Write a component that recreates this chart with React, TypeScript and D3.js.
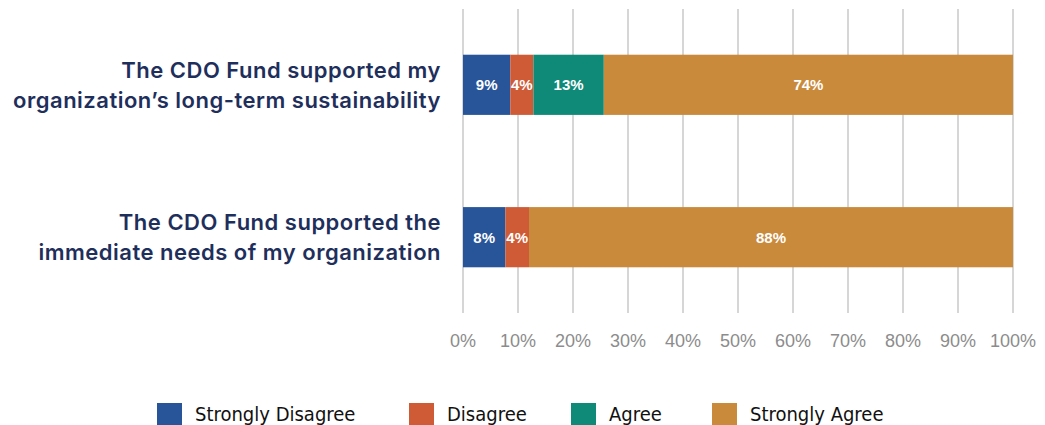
import React from "react";
import * as d3 from "d3";

const categories = ["sustainability", "immediate"];
const categoryLines = [
  ["The CDO Fund supported my", "organization’s long-term sustainability"],
  ["The CDO Fund supported the", "immediate needs of my organization"],
];
const seriesNames = ["Strongly Disagree", "Disagree", "Agree", "Strongly Agree"];
const stronglyDisagree = [8.6, 7.7];
const disagree = [4.2, 4.3];
const agree = [12.8, 0];
const stronglyAgree = [74.4, 88.0];
const tickValues = [0, 10, 20, 30, 40, 50, 60, 70, 80, 90, 100];
const colors = ["#28559a", "#cf5b36", "#0f8a78", "#c98a3c"];

const W = 1045;
const H = 425;

export default function App() {
  const x = d3.scaleLinear().domain([0, 100]).range([463, 1013]);
  const y = d3
    .scaleBand<string>()
    .domain(categories)
    .range([9, 313])
    .paddingInner(0.605)
    .paddingOuter(0.3);

  const rows = categories.map((c, i) => {
    const o: any = { cat: c };
    o[seriesNames[0]] = stronglyDisagree[i];
    o[seriesNames[1]] = disagree[i];
    o[seriesNames[2]] = agree[i];
    o[seriesNames[3]] = stronglyAgree[i];
    return o;
  });
  const stacked = d3.stack<any>().keys(seriesNames)(rows);

  // legend swatch left edges
  const legendX = [157, 409, 571, 712];

  return (
    <svg
      width={W}
      height={H}
      style={{ position: "absolute", left: 0, top: 0, background: "#fff" }}
    >
      {tickValues.map((t) => (
        <g key={t}>
          <line
            x1={x(t)}
            x2={x(t)}
            y1={9}
            y2={313}
            stroke="#c8c8c8"
            strokeWidth={1.5}
          />
          <text
            x={x(t)}
            y={341}
            textAnchor="middle"
            dominantBaseline="central"
            fontFamily="'Liberation Sans', Arial, sans-serif"
            fontSize={18}
            fill="#8c8c8c"
          >
            {t}%
          </text>
        </g>
      ))}

      {stacked.map((s, si) => (
        <g key={s.key} fill={colors[si]}>
          {s.map((d, i) => {
            const w = x(d[1]) - x(d[0]);
            if (w <= 0) return null;
            const yy = y(categories[i])!;
            const v = d[1] - d[0];
            return (
              <g key={i}>
                <rect x={x(d[0])} y={yy} width={w} height={y.bandwidth()} />
                <text
                  x={(x(d[0]) + x(d[1])) / 2}
                  y={yy + y.bandwidth() / 2}
                  textAnchor="middle"
                  dominantBaseline="central"
                  fontFamily="'Liberation Sans', Arial, sans-serif"
                  fontWeight="bold"
                  fontSize={15}
                  fill="#fff"
                >
                  {Math.round(v)}%
                </text>
              </g>
            );
          })}
        </g>
      ))}

      {categories.map((c, i) => {
        const cy = y(c)! + y.bandwidth() / 2;
        return (
          <text
            key={c}
            textAnchor="end"
            fontFamily="Inter, 'Noto Sans', sans-serif"
            fontWeight={600}
            fontSize={22}
            letterSpacing={0.5}
            fill="#1f2f5c"
          >
            {categoryLines[i].map((l, li) => (
              <tspan
                key={li}
                x={441}
                y={cy + (li === 0 ? -15 : 15)}
                dominantBaseline="central"
              >
                {l}
              </tspan>
            ))}
          </text>
        );
      })}

      {seriesNames.map((n, i) => (
        <g key={n}>
          <rect x={legendX[i]} y={403} width={25} height={23} fill={colors[i]} />
          <text
            x={legendX[i] + 38}
            y={414}
            dominantBaseline="central"
            fontFamily="'Liberation Sans Narrow', 'DejaVu Sans Condensed', sans-serif"
            fontSize={20}
            fill="#111"
          >
            {n}
          </text>
        </g>
      ))}
    </svg>
  );
}
